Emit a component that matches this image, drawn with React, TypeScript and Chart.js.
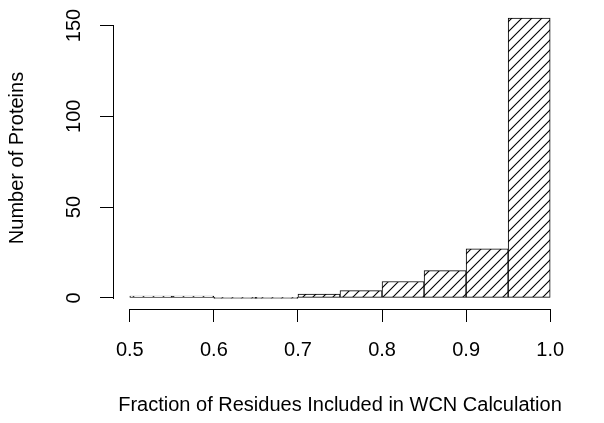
import React, { useEffect, useRef } from "react";
import { Chart, registerables } from "chart.js";

Chart.register(...registerables);

// Histogram bins (centres of 0.05-wide bins) and counts
const binCenters = [0.525, 0.575, 0.625, 0.675, 0.725, 0.775, 0.825, 0.875, 0.925, 0.975];
const counts = [1, 1, 0, 0, 2, 4, 9, 15, 27, 154];
const xTickValues = [0.5, 0.6, 0.7, 0.8, 0.9, 1.0];
const yTickValues = [0, 50, 100, 150];
const xTitle = "Fraction of Residues Included in WCN Calculation";
const yTitle = "Number of Proteins";

const FONT = "'Liberation Sans', Arial, Helvetica, sans-serif";

function makeHatch(): CanvasPattern | string {
  const c = document.createElement("canvas");
  c.width = 10;
  c.height = 10;
  const g = c.getContext("2d");
  if (!g) return "#fff";
  g.fillStyle = "#fff";
  g.fillRect(0, 0, 10, 10);
  g.strokeStyle = "#000";
  g.lineWidth = 1.1;
  g.beginPath();
  g.moveTo(-1, 11);
  g.lineTo(11, -1);
  g.moveTo(-2, 2);
  g.lineTo(2, -2);
  g.moveTo(8, 12);
  g.lineTo(12, 8);
  g.stroke();
  const p = g.createPattern(c, "repeat");
  return p || "#fff";
}

const axesPlugin = {
  id: "rAxes",
  afterDraw(chart: any) {
    const { ctx, chartArea, scales } = chart;
    const xs = scales.x;
    const ys = scales.y;
    ctx.save();
    ctx.setLineDash([]);
    ctx.globalAlpha = 1;
    ctx.fillStyle = "#000";
    // x axis line (from first to last tick)
    const x0 = Math.round(xs.getPixelForValue(xTickValues[0]));
    const x1 = Math.round(xs.getPixelForValue(xTickValues[xTickValues.length - 1]));
    const yb = Math.round(chartArea.bottom);
    ctx.fillRect(x0, yb, x1 - x0 + 1, 1);
    // y axis line (from first to last tick)
    const xl = Math.round(chartArea.left);
    const y0 = Math.round(ys.getPixelForValue(yTickValues[0]));
    const y1 = Math.round(ys.getPixelForValue(yTickValues[yTickValues.length - 1]));
    ctx.fillRect(xl, y1, 1, y0 - y1 + 1);
    // rotated y tick labels
    ctx.font = `20px ${FONT}`;
    ctx.textAlign = "center";
    ctx.textBaseline = "alphabetic";
    for (const t of ys.ticks) {
      const py = ys.getPixelForValue(t.value);
      ctx.save();
      ctx.translate(chartArea.left - 33, py);
      ctx.rotate(-Math.PI / 2);
      ctx.fillText(String(t.value), 0, 0);
      ctx.restore();
    }
    ctx.restore();
  },
};

export default function App() {
  const ref = useRef<HTMLCanvasElement | null>(null);

  useEffect(() => {
    if (!ref.current) return;
    const hatch = makeHatch();
    const chart = new Chart(ref.current, {
      type: "bar",
      data: {
        datasets: [
          {
            data: binCenters.map((x, i) => ({ x, y: counts[i] })),
            backgroundColor: hatch as any,
            borderColor: "#000",
            borderWidth: 1,
            borderSkipped: false,
            barPercentage: 1,
            categoryPercentage: 1,
            grouped: false,
            minBarLength: 1,
          } as any,
        ],
      },
      options: {
        animation: false,
        responsive: false,
        devicePixelRatio: 1,
        layout: { padding: { top: 7, right: 37, left: 0, bottom: 0 } },
        plugins: {
          legend: { display: false },
          tooltip: { enabled: false },
        },
        scales: {
          x: {
            type: "linear",
            offset: false,
            min: 0.48,
            max: 1.02,
            afterBuildTicks: (s: any) => {
              s.ticks = xTickValues.map((v) => ({ value: v }));
            },
            afterFit: (s: any) => {
              s.height = 114;
            },
            ticks: {
              autoSkip: false,
              maxRotation: 0,
              minRotation: 0,
              padding: 16,
              color: "#000",
              font: { family: FONT, size: 20 },
              callback: (v: any) => Number(v).toFixed(1),
            },
            grid: {
              offset: false,
              drawOnChartArea: false,
              drawTicks: true,
              tickLength: 13,
              color: "#000",
              lineWidth: 1,
            },
            border: { display: false },
            title: {
              display: true,
              text: xTitle,
              color: "#000",
              font: { family: FONT, size: 20 },
              padding: { top: 0, bottom: 6 },
            },
          },
          y: {
            type: "linear",
            min: -6.16,
            max: 160.16,
            afterBuildTicks: (s: any) => {
              s.ticks = yTickValues.map((v) => ({ value: v }));
            },
            afterFit: (s: any) => {
              s.width = 113;
            },
            ticks: { display: false },
            grid: {
              drawOnChartArea: false,
              drawTicks: true,
              tickLength: 13,
              color: "#000",
              lineWidth: 1,
            },
            border: { display: false },
            title: {
              display: true,
              text: yTitle,
              color: "#000",
              font: { family: FONT, size: 20 },
              padding: { top: 5, bottom: 0 },
            },
          },
        },
      },
      plugins: [axesPlugin],
    });
    return () => chart.destroy();
  }, []);

  return (
    <div style={{ position: "absolute", left: 0, top: 0, width: 604, height: 423, background: "#fff" }}>
      <canvas ref={ref} width={604} height={423} />
    </div>
  );
}
